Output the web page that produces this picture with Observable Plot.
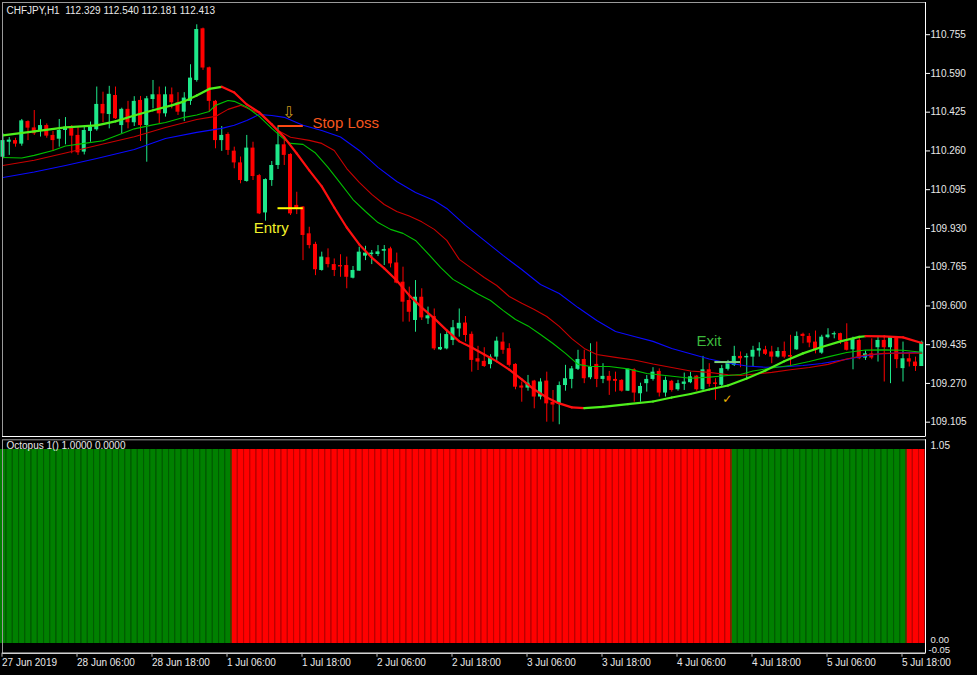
<!DOCTYPE html>
<html><head><meta charset="utf-8">
<script src="https://cdn.jsdelivr.net/npm/d3@7"></script>
<script src="https://cdn.jsdelivr.net/npm/@observablehq/plot@0.6"></script>
<style>
html,body{margin:0;padding:0;background:#000;}
#wrap{position:relative;width:977px;height:675px;background:#000;overflow:hidden;}
#wrap svg{position:absolute;left:0;}
</style></head><body><div id="wrap"></div>
<script>
// ---- data: CHFJPY H1 candles (bar index 0 = 27 Jun 2019 18:00) ----
const open = [
110.233,110.297,110.304,110.289,110.385,110.358,110.347,110.368,110.326,110.310,
110.347,110.361,110.326,110.255,110.343,110.350,110.458,110.415,110.496,110.368,
110.437,110.380,110.475,110.368,110.479,110.499,110.418,110.499,110.465,110.425,
110.471,110.560,110.780,110.614,110.471,110.304,110.330,110.259,110.209,110.130,
110.272,110.155,109.996,110.134,110.198,110.286,110.245,110.028,110.021,109.907,
109.862,109.751,109.805,109.776,109.772,109.772,109.718,109.748,109.812,109.819,
109.819,109.833,109.843,109.783,109.701,109.623,109.538,109.637,109.545,109.555,
109.413,109.417,109.453,109.502,109.527,109.479,109.375,109.364,109.350,109.382,
109.446,109.418,109.351,109.259,109.250,109.280,109.212,109.280,109.190,109.181,
109.261,109.287,109.330,109.372,109.294,109.351,109.287,109.300,109.287,109.283,
109.237,109.328,109.226,109.269,109.287,109.321,109.229,109.279,109.243,109.266,
109.273,109.301,109.243,109.328,109.272,109.262,109.330,109.347,109.385,109.379,
109.382,109.408,109.413,109.404,109.382,109.406,109.389,109.413,109.479,109.470,
109.446,109.399,109.465,109.477,109.482,109.446,109.413,109.453,109.378,109.396,
109.422,109.453,109.422,109.465,109.333,109.375,109.361,109.342];
const high = [
110.333,110.317,110.314,110.394,110.388,110.432,110.393,110.375,110.343,110.394,
110.402,110.368,110.361,110.364,110.383,110.532,110.510,110.535,110.532,110.442,
110.471,110.491,110.492,110.492,110.560,110.532,110.532,110.528,110.508,110.508,
110.627,110.797,110.783,110.617,110.475,110.364,110.337,110.276,110.234,110.326,
110.297,110.160,110.141,110.215,110.361,110.307,110.248,110.084,110.023,109.935,
109.871,109.829,109.843,109.800,109.818,109.808,109.768,109.850,109.854,109.836,
109.857,109.857,109.850,109.825,109.765,109.680,109.708,109.673,109.595,109.587,
109.481,109.492,109.538,109.587,109.555,109.489,109.428,109.422,109.392,109.467,
109.485,109.439,109.354,109.276,109.304,109.283,109.290,109.318,109.240,109.276,
109.347,109.342,109.411,109.411,109.439,109.446,109.354,109.321,109.318,109.286,
109.332,109.332,109.271,109.304,109.337,109.332,109.297,109.283,109.283,109.314,
109.317,109.304,109.385,109.354,109.290,109.347,109.368,109.428,109.404,109.396,
109.428,109.443,109.428,109.428,109.422,109.446,109.475,109.489,109.484,109.482,
109.493,109.475,109.503,109.489,109.484,109.524,109.467,109.470,109.408,109.460,
109.467,109.467,109.467,109.470,109.446,109.396,109.382,109.450];
const low = [
110.226,110.241,110.276,110.280,110.304,110.326,110.319,110.314,110.258,110.276,
110.286,110.248,110.241,110.243,110.297,110.344,110.380,110.354,110.394,110.333,
110.354,110.364,110.300,110.212,110.439,110.375,110.404,110.439,110.411,110.385,
110.454,110.553,110.603,110.425,110.269,110.258,110.241,110.184,110.120,110.127,
110.134,109.989,109.961,110.109,110.181,110.198,109.985,109.989,109.793,109.843,
109.729,109.748,109.762,109.725,109.722,109.673,109.715,109.748,109.793,109.776,
109.810,109.772,109.762,109.694,109.531,109.531,109.488,109.538,109.521,109.410,
109.410,109.413,109.431,109.467,109.446,109.318,109.325,109.338,109.332,109.368,
109.394,109.340,109.243,109.190,109.237,109.162,109.200,109.105,109.105,109.094,
109.237,109.247,109.325,109.269,109.286,109.252,109.269,109.219,109.233,109.233,
109.236,109.190,109.190,109.233,109.280,109.212,109.212,109.233,109.237,109.240,
109.269,109.237,109.240,109.254,109.198,109.257,109.323,109.342,109.337,109.290,
109.342,109.382,109.389,109.354,109.378,109.375,109.340,109.411,109.439,109.422,
109.396,109.394,109.460,109.460,109.436,109.408,109.328,109.371,109.368,109.371,
109.361,109.276,109.269,109.333,109.276,109.340,109.321,109.342];
const close = [
110.304,110.306,110.289,110.388,110.357,110.333,110.368,110.323,110.304,110.347,
110.361,110.323,110.252,110.347,110.360,110.458,110.418,110.501,110.397,110.437,
110.380,110.471,110.368,110.482,110.499,110.418,110.499,110.465,110.425,110.485,
110.570,110.777,110.613,110.471,110.304,110.326,110.262,110.209,110.134,110.272,
110.151,109.992,110.138,110.198,110.286,110.241,109.992,110.015,109.900,109.857,
109.754,109.808,109.776,109.751,109.766,109.722,109.751,109.829,109.825,109.825,
109.830,109.840,109.779,109.697,109.616,109.573,109.637,109.549,109.558,109.417,
109.423,109.478,109.507,109.526,109.474,109.368,109.361,109.342,109.382,109.450,
109.411,109.347,109.254,109.250,109.271,109.212,109.276,109.183,109.178,109.261,
109.290,109.332,109.372,109.290,109.340,109.287,109.300,109.280,109.279,109.237,
109.330,109.229,109.257,109.287,109.318,109.229,109.283,109.240,109.269,109.276,
109.298,109.243,109.328,109.266,109.266,109.333,109.354,109.385,109.375,109.385,
109.411,109.418,109.394,109.382,109.406,109.382,109.382,109.470,109.470,109.442,
109.413,109.467,109.476,109.482,109.453,109.411,109.460,109.375,109.396,109.378,
109.453,109.422,109.465,109.371,109.375,109.361,109.342,109.445];

// moving averages: [bar index, price]
const fastMA = [[0,110.326],[5,110.343],[10,110.360],[15,110.369],[18,110.386],[21,110.411],[24,110.433],[27,110.454],[29,110.471],[31,110.496],[33,110.524],[35,110.533],[37,110.509],[39,110.458],[41,110.424],[43,110.373],[45,110.318],[47,110.249],[49,110.177],[51,110.109],[53,110.019],[55,109.934],[57,109.862],[59,109.806],[61,109.760],[63,109.708],[65,109.645],[67,109.593],[69,109.547],[71,109.496],[73,109.449],[75,109.423],[77,109.393],[79,109.364],[81,109.329],[83,109.287],[85,109.244],[87,109.210],[89,109.185],[91,109.168],[93,109.165],[96,109.170],[100,109.182],[104,109.193],[107,109.210],[110,109.225],[113,109.244],[116,109.261],[119,109.291],[122,109.325],[125,109.364],[128,109.398],[131,109.425],[134,109.449],[137,109.468],[138,109.471],[141,109.470],[144,109.466],[147,109.442]];
const greenMA = [[0,110.232],[3,110.230],[5,110.241],[8,110.262],[10,110.281],[13,110.292],[16,110.303],[18,110.324],[21,110.354],[24,110.371],[26,110.381],[29,110.403],[31,110.413],[33,110.428],[34,110.454],[36,110.475],[37,110.471],[39,110.447],[41,110.407],[43,110.356],[45,110.309],[46,110.292],[48,110.288],[50,110.251],[52,110.190],[54,110.122],[56,110.053],[58,110.002],[60,109.955],[62,109.926],[64,109.909],[66,109.879],[68,109.823],[70,109.764],[72,109.713],[74,109.683],[76,109.651],[78,109.623],[80,109.581],[82,109.542],[84,109.515],[86,109.478],[88,109.440],[90,109.398],[92,109.351],[94,109.342],[97,109.342],[100,109.332],[103,109.312],[106,109.304],[110,109.292],[113,109.297],[116,109.304],[118,109.308],[120,109.323],[123,109.336],[126,109.346],[129,109.363],[132,109.383],[135,109.402],[138,109.412],[141,109.413],[144,109.411],[147,109.403]];
const redMA = [[0,110.198],[5,110.220],[10,110.251],[15,110.283],[21,110.320],[26,110.360],[31,110.394],[34,110.407],[36,110.437],[38,110.454],[41,110.420],[44,110.347],[46,110.318],[49,110.305],[51,110.292],[53,110.262],[55,110.185],[57,110.126],[59,110.075],[61,110.032],[63,110.002],[65,109.983],[67,109.958],[69,109.926],[71,109.879],[73,109.798],[75,109.760],[77,109.721],[79,109.687],[81,109.640],[83,109.611],[85,109.585],[87,109.555],[89,109.513],[91,109.461],[93,109.419],[95,109.393],[98,109.381],[101,109.370],[104,109.353],[107,109.338],[110,109.323],[113,109.317],[116,109.307],[118,109.304],[120,109.309],[123,109.317],[126,109.328],[129,109.338],[132,109.351],[135,109.374],[138,109.391],[141,109.398],[144,109.399],[147,109.399]];
const blueMA = [[0,110.147],[5,110.170],[10,110.198],[15,110.228],[21,110.266],[26,110.313],[31,110.339],[35,110.356],[37,110.369],[39,110.390],[41,110.415],[43,110.411],[45,110.403],[48,110.369],[51,110.347],[54,110.319],[57,110.262],[60,110.190],[63,110.130],[66,110.083],[69,110.049],[71,110.015],[74,109.943],[77,109.879],[80,109.815],[83,109.755],[86,109.691],[89,109.653],[92,109.593],[95,109.538],[98,109.491],[101,109.470],[104,109.449],[107,109.419],[110,109.396],[113,109.374],[116,109.357],[119,109.344],[122,109.339],[125,109.341],[128,109.346],[131,109.355],[134,109.368],[137,109.383],[140,109.395],[143,109.399],[147,109.403]];

// Octopus indicator state, run lengths from the first bar
const octopusRuns = [[37,1],[80,0],[28,1],[3,0]];

// trade annotations
const tradeLevels = [
  {label:"Stop Loss", price:110.366, from:44, to:48.05},
  {label:"Entry", price:110.016, from:44, to:48.05},
  {label:"Exit", price:109.361, from:113.9, to:118}
];
const tradeNotes = [
  {text:"Stop Loss", i:49.5, price:110.376},
  {text:"Entry", i:40.1, price:109.930},
  {text:"Exit", i:110.96, price:109.449}
];
const arrowMark = {i:45.7, price:110.422};
const checkMark = {i:115.9, price:109.205};

const priceTicks = [110.755,110.590,110.425,110.260,110.095,109.930,109.765,109.600,109.435,109.270,109.105];
const timeTickIdx = [0,12,24,36,48,60,72,84,96,108,120,132,144];
const timeLabels = ["27 Jun 2019","28 Jun 06:00","28 Jun 18:00","1 Jul 06:00","1 Jul 18:00","2 Jul 06:00","2 Jul 18:00","3 Jul 06:00","3 Jul 18:00","4 Jul 06:00","4 Jul 18:00","5 Jul 06:00","5 Jul 18:00"];
const headerText = "CHFJPY,H1\u00a0\u00a0112.329 112.540 112.181 112.413";
const subTitle = "Octopus 1() 1.0000 0.0000";

// ---- styles ----
const UP = "#1ee88a", DN = "#ff0000";
const LIME = "#4ef01c", FALL = "#ff1010";
const FONT = "'Liberation Sans', Arial, sans-serif";
const TXT = "#e8e8e8";
const xDom = [-0.08, 147.6];
const yDom = [109.044, 110.892];

const bars = open.map((o, i) => ({i, o, h: high[i], l: low[i], c: close[i], up: close[i] >= o}));
const fastSeg = fastMA.slice(1).map((p, k) => ({x1: fastMA[k][0], y1: fastMA[k][1], x2: p[0], y2: p[1], col: p[1] >= fastMA[k][1] ? LIME : FALL}));
const toPts = a => a.map(([i, v]) => ({i, v}));

const main = Plot.plot({
  width: 977, height: 440,
  marginTop: 2, marginBottom: 4, marginLeft: 2, marginRight: 52,
  style: {background: "transparent", color: TXT, fontFamily: FONT, fontSize: "10px"},
  x: {domain: xDom, axis: null},
  y: {domain: yDom, axis: null},
  marks: [
    Plot.axisY({anchor: "right", ticks: priceTicks, tickFormat: d => d.toFixed(3), tickSize: 4, tickPadding: 1, stroke: "#ffffff", fill: TXT, fontSize: 10}),
    Plot.ruleX(bars, {x: "i", y1: "l", y2: "h", stroke: d => d.up ? UP : DN, strokeWidth: 1}),
    Plot.rect(bars, {x1: d => d.i - 0.32, x2: d => d.i + 0.32, y1: "o", y2: "c", fill: d => d.up ? UP : DN}),
    Plot.line(toPts(blueMA), {x: "i", y: "v", stroke: "#0a0aff", strokeWidth: 1.1}),
    Plot.line(toPts(redMA), {x: "i", y: "v", stroke: "#c80000", strokeWidth: 1.1}),
    Plot.line(toPts(greenMA), {x: "i", y: "v", stroke: "#00c000", strokeWidth: 1.1}),
    Plot.link(fastSeg, {x1: "x1", y1: "y1", x2: "x2", y2: "y2", stroke: "col", strokeWidth: 2.2, strokeLinecap: "round"}),
    Plot.ruleY([tradeLevels[0]], {y: "price", x1: "from", x2: "to", stroke: "#ff4a14", strokeWidth: 2}),
    Plot.ruleY([tradeLevels[1]], {y: "price", x1: "from", x2: "to", stroke: "#ffff00", strokeWidth: 2}),
    Plot.ruleY([tradeLevels[2]], {y: "price", x1: "from", x2: "to", stroke: "#7fd27f", strokeWidth: 2}),
    Plot.text([tradeNotes[0]], {x: "i", y: "price", text: "text", fill: "#f5561e", fontSize: 15, textAnchor: "start", fontFamily: FONT}),
    Plot.text([tradeNotes[1]], {x: "i", y: "price", text: "text", fill: "#f2f22a", fontSize: 15, textAnchor: "start", fontFamily: FONT}),
    Plot.text([tradeNotes[2]], {x: "i", y: "price", text: "text", fill: "#3cb83c", fontSize: 15, textAnchor: "start", fontFamily: FONT}),
    Plot.text([arrowMark], {x: "i", y: "price", text: () => "\u21e9", fill: "#c8961e", fontSize: 16, fontFamily: "'DejaVu Sans'"}),
    Plot.text([checkMark], {x: "i", y: "price", text: () => "\u2713", fill: "#f0b400", fontSize: 12, fontFamily: "'DejaVu Sans'"}),
    Plot.text([headerText], {frameAnchor: "top-left", dx: 4, dy: 4, textAnchor: "start", lineAnchor: "top", fill: TXT, fontSize: 10}),
    Plot.frame({stroke: "#9a9a9a"}),
    Plot.ruleX([xDom[1]], {stroke: "#ffffff"}),
    Plot.ruleY([yDom[0]], {stroke: "#ffffff"})
  ]
});
main.style.top = "0px";
document.getElementById("wrap").appendChild(main);

// ---- lower panel ----
const octo = [];
octopusRuns.forEach(([n, up]) => { for (let k = 0; k < n; k++) octo.push({i: octo.length, up}); });

const lower = Plot.plot({
  width: 977, height: 236,
  marginTop: 0.3, marginBottom: 22.3, marginLeft: 2, marginRight: 52,
  style: {background: "transparent", color: TXT, fontFamily: FONT, fontSize: "10px"},
  x: {domain: xDom, axis: null},
  y: {domain: [-0.05, 1.05], axis: null},
  marks: [
    Plot.rect(octo, {x1: d => d.i - 0.5, x2: d => d.i + 0.5, y1: 0, y2: 1, fill: d => d.up ? "#008000" : "#ff0000"}),
    Plot.ruleX(octo, {x: d => d.i + 0.5, y1: 0, y2: 1, stroke: d => d.up ? "#005a00" : "#b80000", strokeWidth: 1}),
    Plot.frame({stroke: "#9a9a9a"}),
    Plot.ruleX([xDom[1]], {stroke: "#ffffff"}),
    Plot.ruleY([-0.05], {stroke: "#ffffff"}),
    Plot.text([subTitle], {frameAnchor: "top-left", dx: 4, dy: 2.5, textAnchor: "start", lineAnchor: "top", fill: TXT, fontSize: 10}),
    Plot.text(["1.05"], {frameAnchor: "top-right", dx: 5, dy: 2, textAnchor: "start", lineAnchor: "top", fill: TXT, fontSize: 10}),
    Plot.text(["0.00"], {frameAnchor: "bottom-right", dx: 5, dy: -13.5, textAnchor: "start", lineAnchor: "middle", fill: TXT, fontSize: 9.5}),
    Plot.text(["-0.05"], {frameAnchor: "bottom-right", dx: 3, dy: -3.5, textAnchor: "start", lineAnchor: "middle", fill: TXT, fontSize: 9.5}),
    Plot.axisX({anchor: "bottom", ticks: timeTickIdx, tickFormat: d => timeLabels[timeTickIdx.indexOf(d)], tickSize: 4, tickPadding: 1.5, textAnchor: "start", dx: -1, stroke: "#bbbbbb", fill: TXT, fontSize: 10})
  ]
});
lower.style.top = "439px";
document.getElementById("wrap").appendChild(lower);
</script></body></html>
